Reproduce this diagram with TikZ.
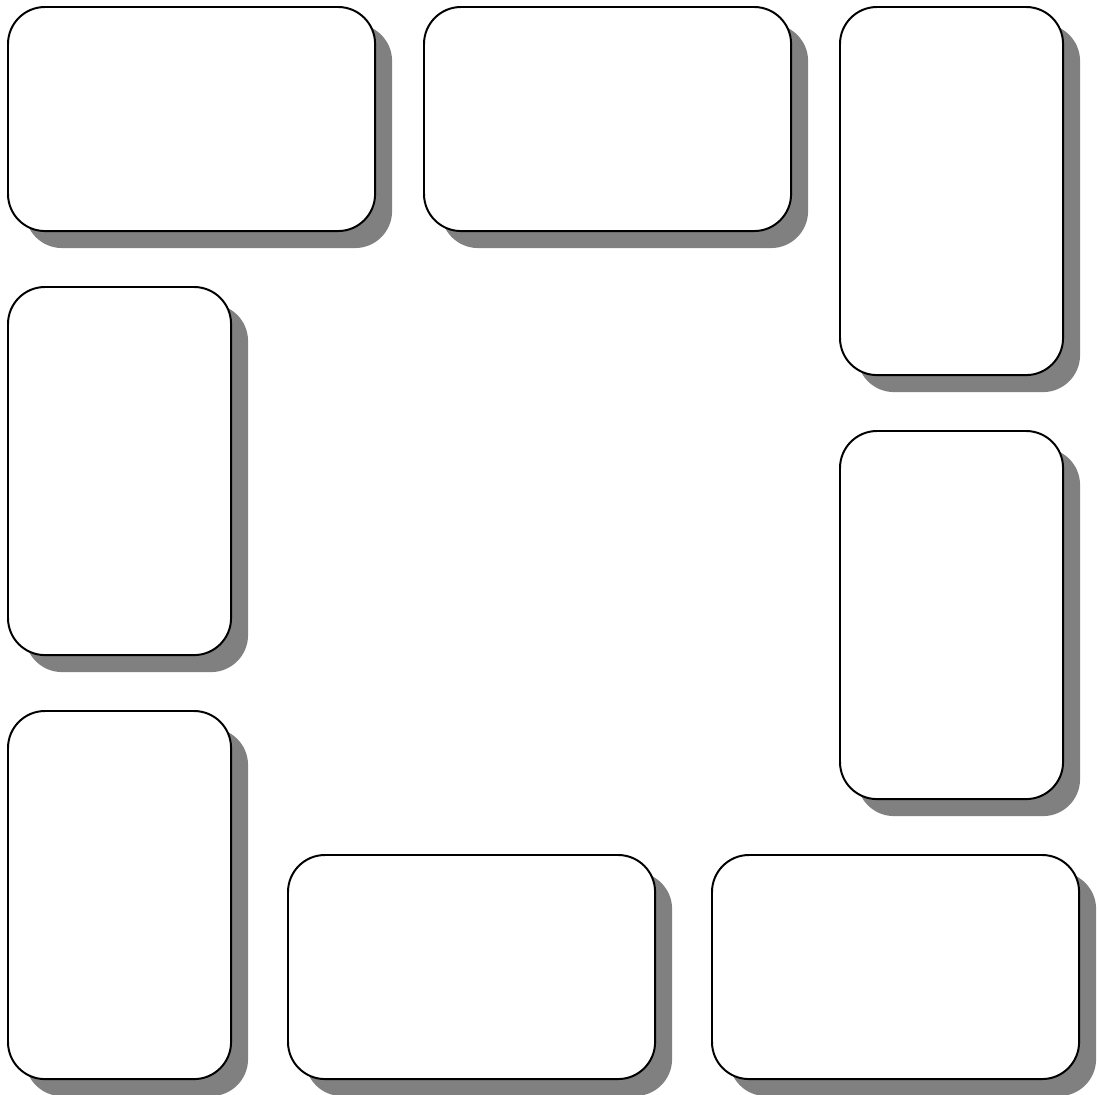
\documentclass[tikz,border=0pt]{standalone}
\usepackage{tikz}
\usetikzlibrary{shadows,positioning}

\tikzset{
  panel/.style={draw=black, fill=white, line width=1.4pt, rounded corners=0.925cm, inner sep=0pt, outer sep=0pt, anchor=north west,
    drop shadow={shadow xshift=0.425cm, shadow yshift=-0.425cm, fill=gray, opacity=1}},
  wide/.style={panel, minimum width=9.175cm, minimum height=5.6cm},
  tall/.style={panel, minimum width=5.575cm, minimum height=9.2cm}
}

\begin{document}
\begin{tikzpicture}[x=0.025cm,y=-0.025cm]
\useasboundingbox (0,0) rectangle (1097,1095);
\node[wide] (topleft) at (8,7) {};
\node[wide] (topmid) at (424,7) {};
\node[tall] (topright) at (840,7) {};
\node[tall] (midleft) at (8,287) {};
\node[tall] (midright) at (840,431) {};
\node[tall] (botleft) at (8,711) {};
\node[wide] (botmid) at (288,855) {};
\node[wide] (botright) at (712,855) {};
\end{tikzpicture}
\end{document}
